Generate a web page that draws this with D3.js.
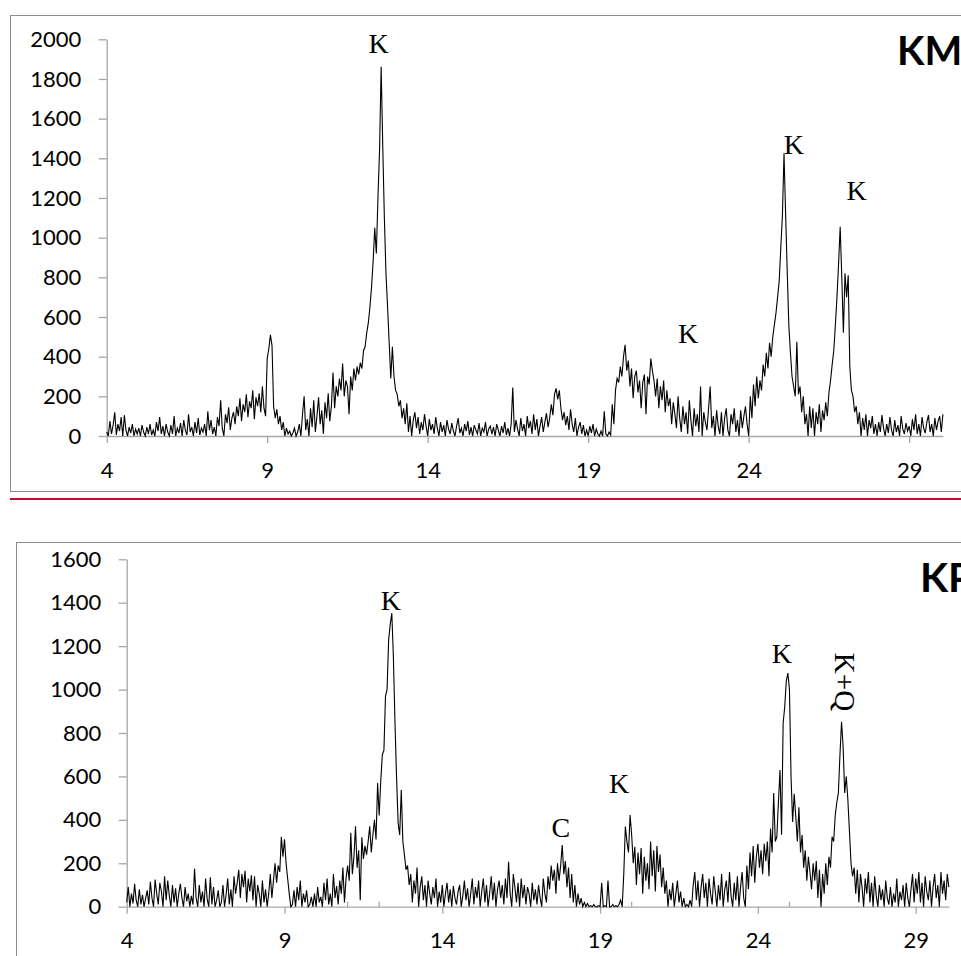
<!DOCTYPE html>
<html>
<head>
<meta charset="utf-8">
<script src="https://cdn.jsdelivr.net/npm/d3@7/dist/d3.min.js"></script>
<style>
  html, body { margin: 0; padding: 0; background: #fff; }
  svg { display: block; }
</style>
</head>
<body>
<svg id="chart" width="961" height="956"></svg>
<script>
// Diffraction scans: intensity (counts) on a 0.05° 2θ grid starting at 4.00°
const twoThetaStart = 4.0;
const twoThetaStep = 0.05;

// KM sample, 4.00° – 30.05°
const kmCounts = [
  20,0,75,10,55,120,5,60,25,95,0,105,30,0,45,15,60,0,35,10,
  40,0,55,20,0,45,10,60,5,30,0,70,25,95,10,50,0,60,20,0,
  55,10,100,0,40,15,65,0,80,30,5,110,20,45,0,70,15,90,5,40,
  20,60,0,125,30,80,10,45,0,95,50,180,40,0,110,65,145,30,90,120,
  60,150,100,190,75,160,120,210,95,175,140,230,85,195,150,215,120,250,140,100,
  390,440,510,455,150,90,135,60,100,30,70,0,40,10,25,0,15,40,0,20,
  60,0,110,200,30,85,0,140,45,180,20,100,195,60,130,10,170,90,215,75,
  150,320,140,250,200,290,230,365,200,280,250,110,300,230,340,280,350,310,370,340,
  430,450,520,570,650,750,880,1050,920,1200,1440,1862,1460,1100,820,650,470,290,450,300,
  230,210,150,180,90,140,60,165,20,100,0,80,120,40,95,10,70,30,110,50,
  0,85,30,60,10,95,40,0,70,20,55,0,80,35,10,65,25,0,50,90,
  15,40,0,60,25,75,5,45,0,55,30,10,65,0,40,20,70,0,35,50,
  10,45,0,60,30,0,50,15,70,5,40,0,60,245,20,80,35,0,90,25,
  60,0,100,40,75,10,110,30,85,0,50,95,20,70,115,45,90,160,105,210,
  240,185,230,140,80,120,55,100,30,135,60,20,90,0,45,70,10,55,0,30,
  0,50,15,60,0,35,10,0,25,0,125,10,0,20,5,160,60,230,290,270,
  350,300,400,460,330,380,250,340,190,300,330,220,280,140,270,310,110,300,260,390,
  330,280,200,290,140,250,180,280,120,230,150,190,60,170,110,40,200,90,20,150,
  60,120,10,180,80,0,140,50,110,20,250,0,120,70,30,140,250,40,100,0,
  130,50,10,120,0,90,140,30,0,110,60,140,20,80,0,130,40,100,150,60,
  0,200,90,260,150,300,190,280,230,360,300,420,340,470,400,500,560,620,700,780,
  950,1110,1425,1120,830,560,420,300,250,200,475,210,250,120,200,60,110,0,150,40,
  140,0,120,60,160,20,130,80,170,100,220,280,360,430,560,700,870,1055,800,520,
  820,700,810,350,230,200,120,150,60,120,0,90,30,110,0,80,40,100,10,60,
  0,70,20,105,40,0,60,15,95,30,0,80,20,55,0,100,35,10,65,25,
  50,0,85,30,110,10,60,0,95,40,15,70,105,20,60,0,90,30,75,100,
  20,110
];

// KP sample, 4.00° – 30.05°
const kpCounts = [
  20,90,0,60,15,105,30,0,80,10,55,0,40,75,10,115,40,0,125,60,
  10,110,70,0,140,30,120,50,0,100,20,85,0,60,105,40,0,90,25,60,
  0,50,10,175,40,0,100,20,70,0,130,35,0,135,10,90,0,30,75,0,
  20,100,0,55,130,10,80,0,140,60,110,170,40,150,90,165,20,130,70,145,
  30,140,0,100,60,0,120,20,80,0,60,150,40,120,200,110,190,160,322,230,
  310,200,130,60,0,10,75,0,90,30,120,0,60,20,75,0,10,45,0,60,
  0,90,20,45,0,110,30,130,10,60,0,150,40,95,10,120,60,180,20,130,
  190,120,340,150,230,370,180,260,30,320,220,280,240,300,370,250,330,400,310,570,
  420,580,700,720,970,1000,1230,1300,1352,1150,850,600,385,330,537,300,240,170,190,100,
  150,20,120,60,180,0,90,140,30,100,0,120,60,10,90,40,130,0,70,20,
  100,0,60,110,20,80,0,95,40,10,70,100,0,50,120,30,85,0,60,130,
  10,90,40,120,0,70,130,20,100,0,60,140,30,110,0,80,120,40,100,10,
  130,40,207,60,0,150,90,20,110,0,130,40,100,10,90,60,0,110,30,80,
  10,100,40,0,130,60,20,140,80,190,120,170,60,200,120,190,284,150,210,90,
  180,40,150,20,100,0,60,10,40,0,20,0,15,0,5,0,10,0,0,5,
  0,110,0,5,0,120,0,0,10,0,5,0,10,30,0,150,369,300,250,422,
  330,200,276,100,250,150,270,60,230,120,200,80,300,140,260,70,280,160,240,90,
  180,60,120,0,80,30,110,0,60,120,20,70,0,40,0,10,0,30,0,100,
  160,30,120,0,90,150,40,110,0,130,60,10,140,70,0,100,30,150,0,80,
  120,20,160,50,0,110,30,140,0,90,160,40,0,190,80,250,140,280,110,230,
  290,180,260,150,290,210,300,140,360,250,524,300,322,480,630,331,846,921,1040,1076,
  1000,600,390,520,415,300,458,250,330,180,260,120,230,160,80,200,120,210,40,170,
  0,150,60,200,100,230,180,322,300,420,480,524,700,852,737,524,600,494,350,200,
  140,180,60,170,20,150,90,0,130,60,160,20,110,0,140,50,0,100,30,80,
  0,120,40,10,90,0,60,20,130,0,70,30,100,0,110,40,0,80,150,20,
  130,60,160,20,110,0,140,70,30,120,0,90,150,40,100,0,160,60,120,30,
  150,90
];

// Axis ticks
const xTicks = [4, 9, 14, 19, 24, 29];
const kmYTicks = [0, 200, 400, 600, 800, 1000, 1200, 1400, 1600, 1800, 2000];
const kpYTicks = [0, 200, 400, 600, 800, 1000, 1200, 1400, 1600];
const kpBaseMarks = [11, 12, 20, 25];

// Phase labels (K = kaolinite, Q = quartz, C = calcite), anchored in data units
const kmPeakLabels = [
  { text: "K", at: 12.47, level: 1931 },
  { text: "K", at: 25.41, level: 1422 },
  { text: "K", at: 27.36, level: 1190 },
  { text: "K", at: 22.11, level: 469 }
];
const kpPeakLabels = [
  { text: "K", at: 12.37, level: 1366 },
  { text: "K", at: 24.76, level: 1122 },
  { text: "K+Q", at: 26.44, level: 1035, vertical: true },
  { text: "C", at: 17.76, level: 322 },
  { text: "K", at: 19.60, level: 524 }
];

const svg = d3.select("#chart");
const axisColor = "#a6a6a6";
const tickFont = "Lato, 'Open Sans', sans-serif";
const serifFont = "'Liberation Serif', 'Times New Roman', serif";

function drawPanel(cfg) {
  const xEnd = twoThetaStart + (cfg.counts.length - 1) * twoThetaStep;
  const x = d3.scaleLinear().domain([twoThetaStart, xEnd]).range(cfg.xRange);
  const y = d3.scaleLinear().domain(cfg.yDomain).range(cfg.yRange);
  const g = svg.append("g");

  // y axis
  const yAxis = g.append("g")
    .attr("transform", `translate(${cfg.xRange[0]},0)`)
    .call(d3.axisLeft(y).tickValues(cfg.yTicks).tickSize(8).tickSizeOuter(0).tickPadding(17.5).tickFormat(d3.format("d")));
  // x axis
  const xAxis = g.append("g")
    .attr("transform", `translate(0,${y(0)})`)
    .call(d3.axisBottom(x).tickValues(xTicks).tickSize(7).tickSizeOuter(0).tickPadding(19).tickFormat(d3.format("d")));

  [yAxis, xAxis].forEach(a => {
    a.select(".domain").attr("stroke", axisColor).attr("stroke-width", 1.3);
    a.selectAll(".tick line").attr("stroke", axisColor).attr("stroke-width", 1.3);
    a.selectAll(".tick text")
      .attr("fill", "#000")
      .style("font-family", tickFont)
      .style("font-size", "22px");
  });

  if (cfg.baseMarks) {
    g.selectAll("line.base-mark").data(cfg.baseMarks).join("line")
      .attr("class", "base-mark")
      .attr("x1", d => x(d)).attr("x2", d => x(d))
      .attr("y1", y(0) - 5).attr("y2", y(0))
      .attr("stroke", axisColor).attr("stroke-width", 1.3);
  }

  // scan trace
  const line = d3.line()
    .x((d, i) => x(twoThetaStart + i * twoThetaStep))
    .y(d => y(d));
  g.append("path")
    .datum(cfg.counts)
    .attr("d", line)
    .attr("fill", "none")
    .attr("stroke", "#000")
    .attr("stroke-width", 1.1)
    .attr("stroke-linejoin", "miter");

  // phase labels
  cfg.labels.forEach(l => {
    const t = g.append("text")
      .text(l.text)
      .attr("text-anchor", "middle")
      .style("font-family", serifFont)
      .style("font-size", l.vertical ? "29px" : "28px")
      .attr("fill", "#000");
    if (l.vertical) {
      t.attr("transform", `translate(${x(l.at)},${y(l.level)}) rotate(90)`);
    } else {
      t.attr("x", x(l.at)).attr("y", y(l.level));
    }
  });

  // sample name
  g.append("text")
    .text(cfg.title)
    .attr("x", cfg.titlePos[0]).attr("y", cfg.titlePos[1])
    .style("font-family", tickFont)
    .style("font-weight", 700)
    .style("font-size", cfg.titleSize)
    .attr("fill", "#000");
}

// panel frames
svg.append("rect").attr("x", 10.5).attr("y", 15.5).attr("width", 1000).attr("height", 476)
  .attr("fill", "none").attr("stroke", "#8c8c8c").attr("stroke-width", 1);
svg.append("rect").attr("x", 16.5).attr("y", 542.5).attr("width", 1000).attr("height", 500)
  .attr("fill", "none").attr("stroke", "#8c8c8c").attr("stroke-width", 1);
svg.append("line").attr("x1", 10).attr("x2", 961).attr("y1", 499).attr("y2", 499)
  .attr("stroke", "#c0102f").attr("stroke-width", 2);

drawPanel({
  counts: kmCounts,
  xRange: [106.7, 106.7 + 26.05 * 32.1],
  yDomain: [0, 2000],
  yRange: [436, 39.3],
  yTicks: kmYTicks,
  labels: kmPeakLabels,
  title: "KM",
  titlePos: [897, 65],
  titleSize: "40px"
});

drawPanel({
  counts: kpCounts,
  xRange: [126.7, 126.7 + 26.05 * 31.56],
  yDomain: [0, 1600],
  yRange: [906.7, 559.3],
  yTicks: kpYTicks,
  labels: kpPeakLabels,
  baseMarks: kpBaseMarks,
  title: "KP",
  titlePos: [920, 592],
  titleSize: "41px"
});
</script>
</body>
</html>
